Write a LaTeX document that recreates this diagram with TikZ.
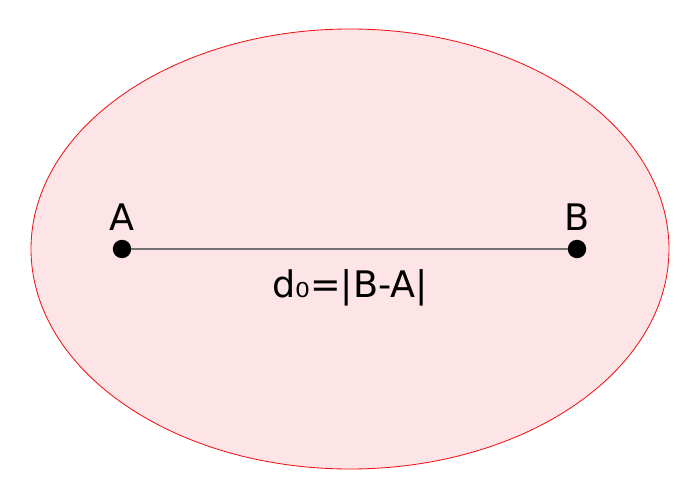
\documentclass[tikz,border=0pt]{standalone}
\usepackage{fontspec}
\setmainfont{DejaVu Sans}
\usetikzlibrary{positioning,calc}
\definecolor{zonefill}{RGB}{253,228,230}
\definecolor{zoneline}{RGB}{240,20,20}
\tikzset{
  zone/.style={draw=zoneline, fill=zonefill, line width=0.6pt},
  pt/.style={circle, fill=black, inner sep=0pt, minimum size=4.6mm},
  plbl/.style={font=\fontsize{26}{30}\selectfont, inner sep=1pt},
  seg/.style={black!55, line width=1.2pt}
}
\begin{document}
\begin{tikzpicture}[x=0.025cm, y=-0.025cm]
    \useasboundingbox (0,0) rectangle (700,500);
    \draw[zone] (350,249) ellipse[x radius=319, y radius=220];
    \node[pt] (a) at (122,249) {};
    \node[pt] (b) at (577,249) {};
    \draw[seg] (a) -- (b);
    \node[plbl, above=5pt of a] (alab) {A};
    \node[plbl, above=5pt of b] (blab) {B};
    \node[plbl] (dist) at (350,288) {d₀=|B-A|};
  \end{tikzpicture}
\end{document}
